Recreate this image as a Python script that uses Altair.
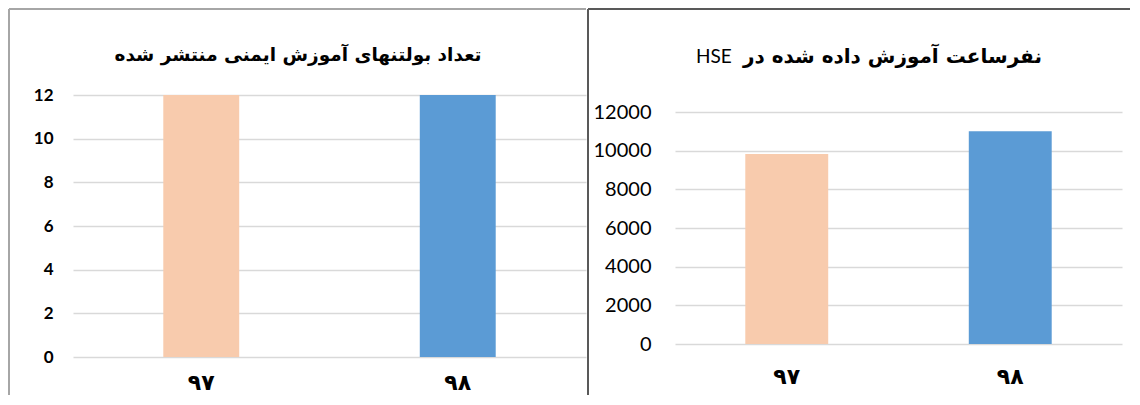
import altair as alt
import pandas as pd

# ---- data ----
years = ["۹۷", "۹۸"]
bulletins = [12, 12]
training_hours = [9830, 11000]
bar_colors = ["#F8CBAD", "#5B9BD5"]
left_ticks = [0, 2, 4, 6, 8, 10, 12]
right_ticks = [0, 2000, 4000, 6000, 8000, 10000, 12000]
left_title = ["تعداد بولتنهای آموزش ایمنی منتشر شده"]
right_title_fa = ["نفرساعت آموزش داده شده در"]
right_title_en = ["HSE"]

df_left = pd.DataFrame({"year": years, "value": bulletins, "color": bar_colors})
df_right = pd.DataFrame({"year": years, "value": training_hours, "color": bar_colors})
one = pd.DataFrame({"k": [0]})

LW, LH = 513, 262
RW, RH = 447, 249
R_MAX = 12000 * RH / 232.0


def x_enc(pad):
    return alt.X(
        "year:N", sort=years,
        scale=alt.Scale(paddingInner=0, paddingOuter=0),
        axis=alt.Axis(title=None, labelAngle=0, ticks=False, domain=False, grid=False,
                      labelFont="DejaVu Sans", labelFontWeight="bold", labelFontSize=22,
                      labelColor="#000000", labelPadding=pad),
    )


def rule(x, y, color, x2=None, y2=None):
    enc = {"x": alt.value(x), "y": alt.value(y)}
    if x2 is not None:
        enc["x2"] = alt.value(x2)
    if y2 is not None:
        enc["y2"] = alt.value(y2)
    return alt.Chart(one).mark_rule(color=color, strokeWidth=2).encode(**enc)


# ---- left panel ----
left_bars = alt.Chart(df_left).mark_bar(width=alt.RelativeBandSize(0.296)).encode(
    x=x_enc(15),
    y=alt.Y("value:Q", scale=alt.Scale(domain=[0, 12], nice=False),
            axis=alt.Axis(values=left_ticks, title=None, ticks=False, domain=False,
                          gridColor="#D9D9D9", gridWidth=1.5,
                          labelFont="Lato", labelFontWeight="bold", labelFontSize=17,
                          labelColor="#000000", labelPadding=20)),
    color=alt.Color("color:N", scale=None),
)
left_t = alt.Chart(pd.DataFrame({"t": left_title})).mark_text(
    font="DejaVu Sans", fontWeight="bold", fontSize=18.5, align="center",
    baseline="middle", color="#000000").encode(
    x=alt.value(225), y=alt.value(-40), text="t:N")

left = alt.layer(
    rule(-64, -86, "#A6A6A6", y2=300),
    rule(-64, -86, "#A6A6A6", x2=LW),
    left_bars,
    left_t,
).properties(width=LW, height=LH)

# ---- right panel ----
right_bars = alt.Chart(df_right).mark_bar(width=alt.RelativeBandSize(0.371)).encode(
    x=x_enc(22),
    y=alt.Y("value:Q", scale=alt.Scale(domain=[0, R_MAX], nice=False),
            axis=alt.Axis(values=right_ticks, format="d", title=None, ticks=False, domain=False,
                          gridColor="#D9D9D9", gridWidth=1.5,
                          labelFont="Lato", labelFontSize=20,
                          labelColor="#000000", labelPadding=24)),
    color=alt.Color("color:N", scale=None),
)
right_fa = alt.Chart(pd.DataFrame({"t": right_title_fa})).mark_text(
    font="DejaVu Sans", fontWeight="bold", fontSize=20, align="right",
    baseline="middle", color="#000000").encode(
    x=alt.value(367), y=alt.value(-38), text="t:N")
right_en = alt.Chart(pd.DataFrame({"t": right_title_en})).mark_text(
    font="Lato", fontSize=19, align="left",
    baseline="middle", color="#000000").encode(
    x=alt.value(21), y=alt.value(-38), text="t:N")

right = alt.layer(
    rule(-87, -86, "#595959", y2=300),
    rule(-87, -86, "#595959", x2=455),
    right_bars,
    right_fa,
    right_en,
).properties(width=RW, height=RH)

chart = alt.hconcat(left, right, spacing=0).properties(
    padding=0, background="white"
).configure_view(stroke=None)

chart.save("out.html", embed_options={"renderer": "svg", "actions": False})
